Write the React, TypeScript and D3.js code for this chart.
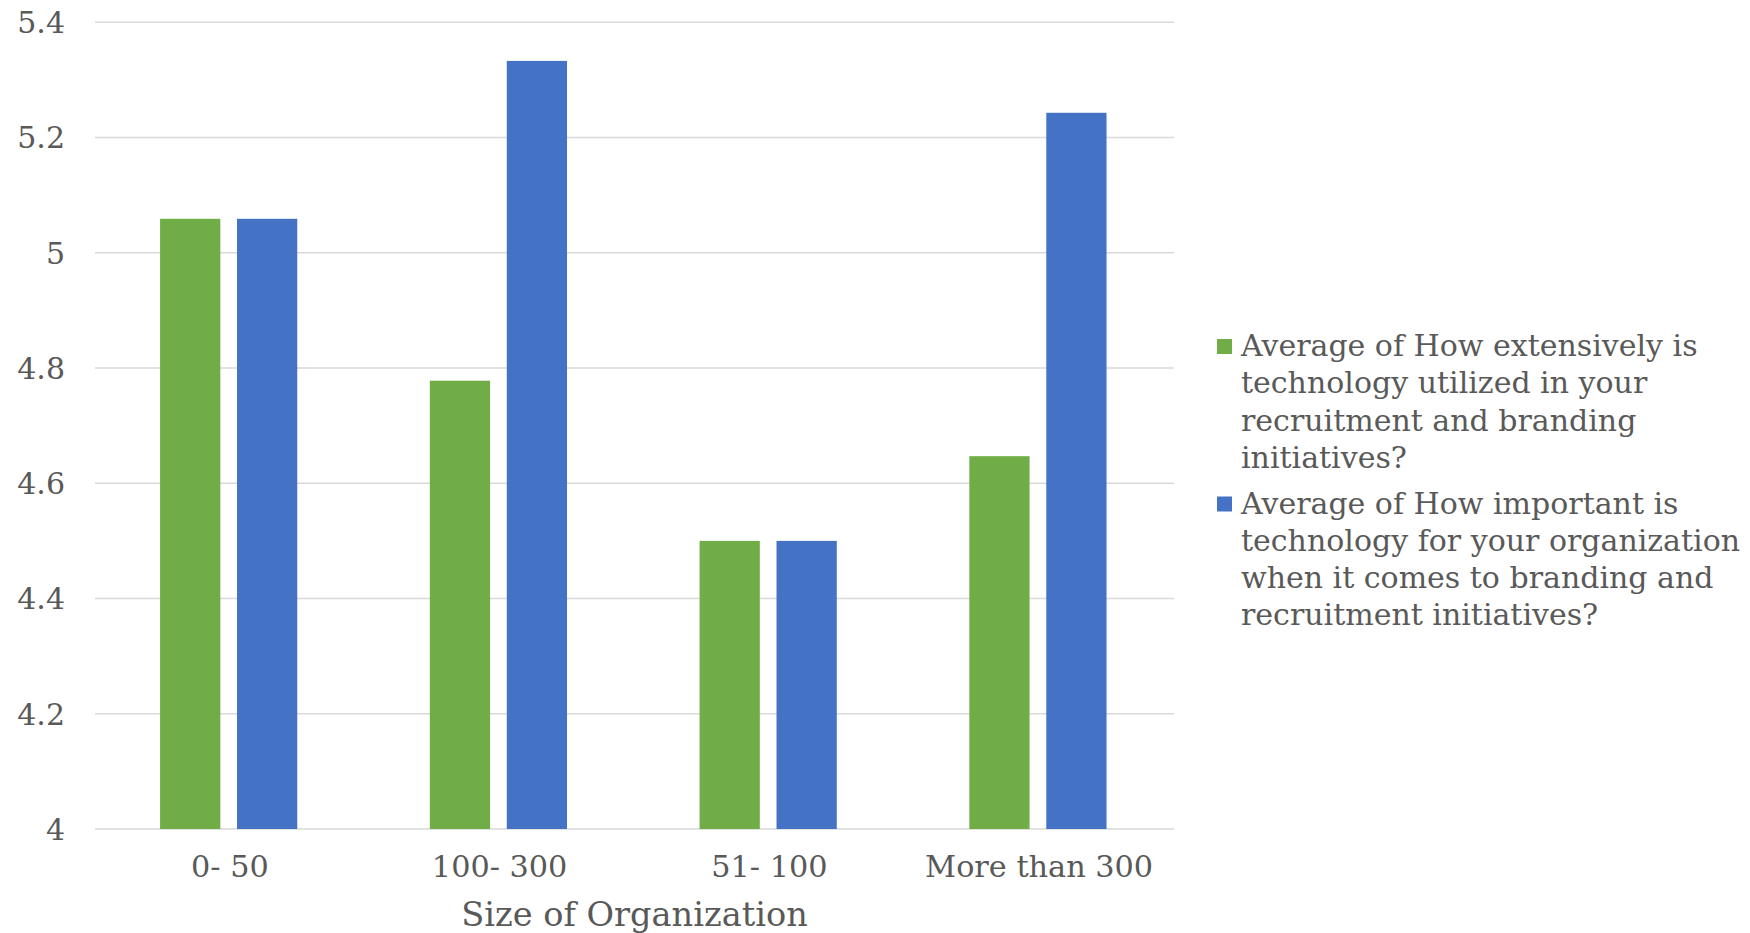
import React from "react";
import * as d3 from "d3";

const categories = ["0- 50", "100- 300", "51- 100", "More than 300"];
const seriesNames = [
  "Average of How extensively is technology utilized in your recruitment and branding initiatives?",
  "Average of How important is technology for your organization when it comes to branding and recruitment initiatives?",
];
const extensivelyValues = [5.059, 4.778, 4.5, 4.647];
const importantValues = [5.059, 5.333, 4.5, 5.243];
const yTicks = [4, 4.2, 4.4, 4.6, 4.8, 5, 5.2, 5.4];
const legendLines = [
  ["Average of How extensively is", "technology utilized in your", "recruitment and branding", "initiatives?"],
  ["Average of How important is", "technology for your organization", "when it comes to branding and", "recruitment initiatives?"],
];
const colors = ["#70AD47", "#4472C4"];

const W = 1750;
const H = 933;
const FONT = "'DejaVu Serif', serif";
const TEXT = "#595959";

export default function App() {
  const left = 95, right = 1174, top = 22.3, bottom = 829;
  const x0 = d3.scaleBand<string>().domain(categories).range([left, right]).padding(0);
  const y = d3.scaleLinear().domain([4, 5.4]).range([bottom, top]);
  const series = [extensivelyValues, importantValues];
  const groupHalf = 68.6;
  const shift = -1.2;
  const x1 = d3.scaleBand<number>().domain([0, 1]).range([-groupHalf + shift, groupHalf + shift]).paddingInner(0.217).paddingOuter(0);

  return (
    <svg width={W} height={H} style={{ position: "absolute", left: 0, top: 0, background: "#fff" }}
      fontFamily={FONT}>
      <rect x={0} y={0} width={W} height={H} fill="#fff" />
      {yTicks.map((t) => (
        <g key={t}>
          <line x1={left} x2={right} y1={y(t)} y2={y(t)} stroke="#D9D9D9" strokeWidth={1.5} />
          <text x={65} y={y(t)} dy="0.36em" textAnchor="end" fontSize={30} fill={TEXT}>
            {d3.format("~g")(t)}
          </text>
        </g>
      ))}
      {categories.map((c, i) => {
        const cx = (x0(c) as number) + x0.bandwidth() / 2;
        return (
          <g key={c}>
            {series.map((vals, s) => (
              <rect key={s} x={cx + (x1(s) as number)} y={y(vals[i])} width={x1.bandwidth()}
                height={y(4) - y(vals[i])} fill={colors[s]} />
            ))}
            <text x={cx} y={877} textAnchor="middle" fontSize={30.3} fill={TEXT}>{c}</text>
          </g>
        );
      })}
      <text x={(left + right) / 2} y={926} textAnchor="middle" fontSize={33.6} fill={TEXT}>Size of Organization</text>
      {legendLines.map((lines, s) => {
        const baseY = 356 + s * 157.5;
        return (
          <g key={s}>
            <title>{seriesNames[s]}</title>
            <rect x={1217} y={baseY - 17} width={15} height={15} fill={colors[s]} />
            {lines.map((ln, k) => (
              <text key={k} x={1241} y={baseY + k * 37.3} fontSize={30} fill={TEXT}>{ln}</text>
            ))}
          </g>
        );
      })}
    </svg>
  );
}
